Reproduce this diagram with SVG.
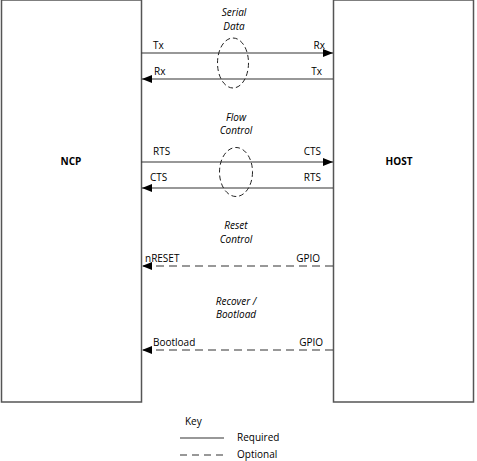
<svg xmlns="http://www.w3.org/2000/svg" width="477" height="461" viewBox="0 0 477 461">
<style>
text{font-family:"Open Sans","Liberation Sans",sans-serif;font-size:10px;fill:#000}
.it{font-style:italic}
.b{font-weight:bold}
.box{fill:#fff;stroke:#555;stroke-width:1.5}
.ln{stroke:#333;stroke-width:1.2;fill:none}
.ds{stroke:#333;stroke-width:1.2;fill:none;stroke-dasharray:8,5}
.el{fill:none;stroke:#222;stroke-width:1;stroke-dasharray:5,3}
</style>
<defs>
<marker id="ah" viewBox="0 0 10 8" refX="10" refY="4" markerWidth="10" markerHeight="8" markerUnits="userSpaceOnUse" orient="auto"><path d="M0,0L10,4L0,8z" fill="#000"/></marker>
</defs>
<rect width="477" height="461" fill="#fff"/>
<g id="ncp"><rect class="box" x="1.5" y="0" width="140" height="402"/><text class="b" x="71" y="165" text-anchor="middle">NCP</text></g>
<g id="host"><rect class="box" x="333.5" y="0" width="140" height="402"/><text class="b" x="399" y="165" text-anchor="middle">HOST</text></g>
<g id="connectors">
<line class="ln" x1="141.5" y1="53" x2="333" y2="53" marker-end="url(#ah)"/>
<line class="ln" x1="333" y1="79" x2="142" y2="79" marker-end="url(#ah)"/>
<line class="ln" x1="141.5" y1="162" x2="333" y2="162" marker-end="url(#ah)"/>
<line class="ln" x1="333" y1="188" x2="142" y2="188" marker-end="url(#ah)"/>
<line class="ds" x1="333" y1="266" x2="142" y2="266" marker-end="url(#ah)"/>
<line class="ds" x1="333" y1="350" x2="142" y2="350" marker-end="url(#ah)"/>
<ellipse class="el" cx="233" cy="63" rx="15.5" ry="25"/>
<ellipse class="el" cx="236" cy="172" rx="16.5" ry="24.5"/>
</g>
<g id="labels">
<text class="it" x="234" y="16" text-anchor="middle">Serial</text>
<text class="it" x="234" y="30" text-anchor="middle">Data</text>
<text x="153" y="49">Tx</text>
<text x="325" y="49" text-anchor="end">Rx</text>
<text x="154" y="75">Rx</text>
<text x="322" y="75" text-anchor="end">Tx</text>
<text class="it" x="236" y="121" text-anchor="middle">Flow</text>
<text class="it" x="236" y="134" text-anchor="middle">Control</text>
<text x="153" y="155">RTS</text>
<text x="321" y="155" text-anchor="end">CTS</text>
<text x="150" y="181">CTS</text>
<text x="321" y="181" text-anchor="end">RTS</text>
<text class="it" x="236" y="229" text-anchor="middle">Reset</text>
<text class="it" x="236" y="243" text-anchor="middle">Control</text>
<text x="145" y="262">nRESET</text>
<text x="320" y="262" text-anchor="end">GPIO</text>
<text class="it" x="236" y="305" text-anchor="middle">Recover /</text>
<text class="it" x="236" y="318" text-anchor="middle">Bootload</text>
<text x="153" y="346">Bootload</text>
<text x="323" y="346" text-anchor="end">GPIO</text>
</g>
<g id="key">
<text x="185" y="425">Key</text>
<line class="ln" x1="180" y1="438" x2="224" y2="438"/>
<text x="237" y="441">Required</text>
<line class="ds" x1="180" y1="455" x2="224" y2="455" style="stroke-dasharray:7,5"/>
<text x="237" y="458">Optional</text>
</g>
</svg>
